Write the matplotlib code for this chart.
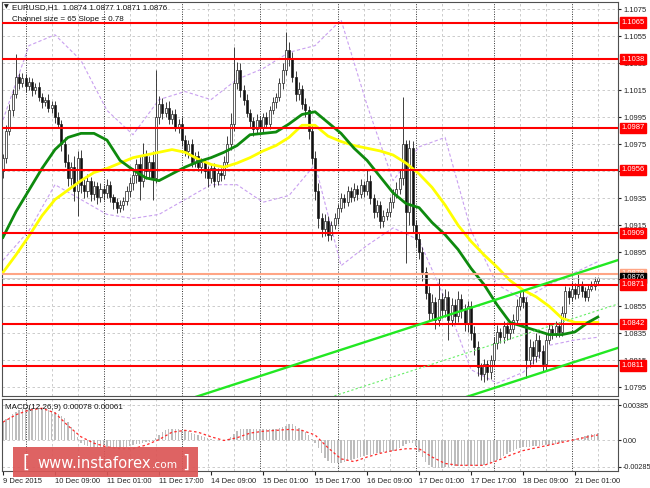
import matplotlib
matplotlib.use("Agg")
import matplotlib.pyplot as plt
import matplotlib.transforms as mtrans
from matplotlib.patches import Rectangle
import numpy as np

# ---- price data (EURUSD H1, bar 0 = 9 Dec 17:00) ----
first_open = 1.0955
closes = [
    1.0965, 1.0985, 1.1000, 1.1012, 1.1025, 1.1020, 1.1024, 1.1018, 1.1021, 1.1015,
    1.1017, 1.1010, 1.1006, 1.1008, 1.1002, 1.1004, 1.0995, 1.0990, 1.0975, 1.0962,
    1.0950, 1.0958, 1.0940, 1.0965, 1.0945, 1.0940, 1.0948, 1.0938, 1.0944, 1.0936,
    1.0942, 1.0939, 1.0945, 1.0936, 1.0932, 1.0928, 1.0930, 1.0933, 1.0940, 1.0946,
    1.0952, 1.0960, 1.0948, 1.0966, 1.0955, 1.0962, 1.0950, 1.0995, 1.1005, 1.0998,
    1.1002, 1.0994, 1.0997, 1.0988, 1.0990, 1.0978, 1.0970, 1.0975, 1.0962, 1.0966,
    1.0958, 1.0962, 1.0955, 1.0950, 1.0957, 1.0948, 1.0954, 1.0952, 1.0962, 1.0975,
    1.0990, 1.1020, 1.1030, 1.1015, 1.1008, 1.0998, 1.0992, 1.0986, 1.0993, 1.0988,
    1.0995, 1.0990, 1.1000, 1.1006, 1.1010, 1.1020, 1.1030, 1.1045, 1.1038, 1.1025,
    1.1012, 1.1016, 1.1005, 1.1000, 1.0985, 1.0965, 1.0940, 1.0920, 1.0912, 1.0918,
    1.0908, 1.0915, 1.0920, 1.0928, 1.0935, 1.0932, 1.0940, 1.0936, 1.0942, 1.0938,
    1.0945, 1.0940, 1.0948, 1.0935, 1.0925, 1.0930, 1.0918, 1.0922, 1.0925, 1.0932,
    1.0938, 1.0942, 1.0950, 1.0975, 1.0925, 1.0972, 1.0915, 1.0905, 1.0895, 1.0880,
    1.0865, 1.0850, 1.0858, 1.0845, 1.0860, 1.0852, 1.0862, 1.0845, 1.0856, 1.0848,
    1.0860, 1.0852, 1.0842, 1.0855, 1.0835, 1.0825, 1.0810, 1.0805, 1.0812, 1.0806,
    1.0815, 1.0828, 1.0836, 1.0832, 1.0840, 1.0835, 1.0838, 1.0845, 1.0855, 1.0862,
    1.0858, 1.0815, 1.0825, 1.0818, 1.0830, 1.0822, 1.0812, 1.0830, 1.0838, 1.0835,
    1.0840, 1.0836, 1.0850, 1.0866, 1.0862, 1.0868, 1.0864, 1.0870, 1.0866, 1.0862,
    1.0868, 1.0870, 1.0874, 1.0876,
]
# wick lengths in pips above / below the body
up_wick = [
    3, 4, 5, 4, 17, 3, 4, 3, 4, 3,
    3, 4, 3, 2, 4, 3, 3, 4, 3, 5,
    6, 4, 8, 5, 6, 4, 5, 3, 4, 3,
    4, 3, 4, 3, 2, 3, 4, 3, 4, 5,
    5, 4, 6, 10, 5, 4, 8, 35, 6, 4,
    4, 5, 3, 4, 4, 5, 4, 3, 4, 3,
    4, 3, 3, 4, 3, 4, 3, 3, 4, 6,
    8, 27, 6, 5, 4, 4, 3, 3, 4, 3,
    3, 4, 3, 4, 3, 4, 5, 13, 6, 5,
    4, 5, 3, 4, 3, 4, 5, 6, 4, 5,
    4, 3, 4, 3, 4, 3, 4, 3, 4, 3,
    4, 3, 8, 4, 3, 4, 3, 4, 3, 4,
    4, 5, 6, 35, 3, 6, 5, 4, 5, 4,
    4, 5, 6, 4, 16, 5, 6, 4, 5, 4,
    6, 4, 5, 4, 4, 5, 4, 3, 4, 3,
    4, 4, 5, 3, 4, 3, 4, 4, 5, 4,
    5, 4, 6, 4, 5, 4, 4, 5, 4, 3,
    4, 3, 5, 4, 3, 5, 4, 10, 4, 3,
    3, 4, 3, 1,
]
down_wick = [
    5, 4, 3, 4, 3, 4, 3, 4, 3, 4,
    3, 3, 4, 3, 3, 4, 4, 3, 5, 4,
    6, 5, 7, 18, 6, 5, 4, 5, 4, 5,
    4, 5, 4, 4, 5, 4, 3, 4, 3, 4,
    5, 6, 14, 5, 6, 5, 16, 4, 5, 4,
    3, 4, 4, 3, 5, 4, 4, 5, 4, 4,
    3, 4, 5, 7, 4, 5, 3, 4, 3, 4,
    4, 5, 4, 5, 4, 3, 4, 5, 3, 4,
    4, 3, 4, 3, 4, 3, 4, 4, 5, 4,
    5, 4, 4, 5, 6, 5, 6, 7, 6, 5,
    5, 4, 3, 4, 3, 4, 3, 4, 3, 4,
    3, 4, 3, 4, 5, 4, 5, 4, 3, 4,
    4, 3, 4, 5, 38, 10, 5, 6, 5, 6,
    5, 6, 5, 7, 5, 6, 5, 15, 5, 6,
    5, 6, 5, 6, 5, 6, 7, 5, 6, 6,
    5, 4, 5, 4, 4, 5, 4, 3, 4, 3,
    4, 13, 5, 6, 4, 5, 6, 4, 3, 4,
    3, 4, 3, 4, 5, 3, 4, 3, 4, 3,
    3, 2, 3, 3,
]

# moving averages read every 4 bars (last point = last bar)
ma_bars = list(range(0, 184, 4)) + [183]
ma_green = [
    1.0906, 1.0925, 1.0941, 1.0957, 1.0971, 1.0980, 1.0983, 1.0983, 1.0978, 1.0963,
    1.0956, 1.0950, 1.0948, 1.0953, 1.0958, 1.0962, 1.0965, 1.0969, 1.0974, 1.0982,
    1.0983, 1.0984, 1.0990, 1.0997, 1.0999, 1.0991, 1.0983, 1.0972, 1.0963, 1.0951,
    1.0939, 1.0931, 1.0928, 1.0917, 1.0908, 1.0897, 1.0883, 1.0871, 1.0856, 1.0843,
    1.0840, 1.0837, 1.0834, 1.0834, 1.0836, 1.0843, 1.0847,
]
ma_yellow = [
    1.0880, 1.0893, 1.0907, 1.0922, 1.0934, 1.0941, 1.0948, 1.0954, 1.0957, 1.0961,
    1.0965, 1.0967, 1.0969, 1.0971, 1.0969, 1.0964, 1.0960, 1.0958, 1.0961, 1.0965,
    1.0970, 1.0974, 1.0980, 1.0989, 1.0989, 1.0981, 1.0977, 1.0974, 1.0972, 1.0970,
    1.0967, 1.0961, 1.0953, 1.0943, 1.0930, 1.0915, 1.0903, 1.0893, 1.0884, 1.0874,
    1.0867, 1.0862, 1.0855, 1.0846, 1.0843, 1.0843, 1.0843,
]
# bands read every 8 bars
band_bars = list(range(0, 184, 8)) + [183]
band_upper = [
    1.0993, 1.1048, 1.1056, 1.1037, 1.1000, 1.0982, 1.1008, 1.1014, 1.1008, 1.1023,
    1.1031, 1.1043, 1.1048, 1.1067, 1.1004, 1.0948, 1.0973, 1.0980, 1.0911, 1.0871,
    1.0860, 1.0871, 1.0880, 1.0888,
]
band_lower = [
    1.0889, 1.0911, 1.0945, 1.0934, 1.0923, 1.0920, 1.0923, 1.0934, 1.0945, 1.0945,
    1.0932, 1.0937, 1.0960, 1.0885, 1.0900, 1.0913, 1.0904, 1.0860, 1.0808, 1.0798,
    1.0806, 1.0826, 1.0830, 1.0832,
]

# MACD (units of 1e-4)
macd_hist = [
    20, 23, 26, 29, 31, 33, 34, 35, 35, 35, 34, 34, 34, 33, 33, 32, 31, 29, 27, 24, 20,
    15, 10, 4,
    -3, -5, -6, -7, -7, -8, -8, -7, -7, -8, -8, -8, -8, -7, -7, -6, -5, -4, -4, -3, -2, -2, -1,
    3, 6, 9, 11, 12, 13, 12, 12, 11, 11, 10,
    8, 7, 6, 5, 4, 3, 2, 1, 1, 0, 1, 2, 4,
    7, 10, 12, 13, 13, 12, 12, 12, 12,
    12, 12, 12, 13, 13, 14, 15, 16, 18, 18, 16, 14,
    11, 9, 6, 2, -3, -8,
    -14, -19, -22, -25, -25, -25, -24, -23, -22, -21,
    -20, -19, -18, -17, -16, -16, -15, -14, -14, -13, -12, -12, -11, -10, -8, -6,
    -4, -3, -3, -6,
    -12, -18, -23, -27, -29, -30, -30, -30, -29, -29, -28,
    -28, -28, -28, -28, -27, -27, -28, -28, -28, -27, -26, -25, -23,
    -21, -19, -17, -15, -13, -11, -9, -8, -7,
    -7, -7, -6, -6, -6, -5, -5, -5, -4, -4, -3,
    -2, -1, 0, 1,
    2, 3, 4, 5, 6, 7, 7, 8,
]
macd_signal = [
    20, 28, 33, 35, 30, 16, 4, -3, -7, -9, -9, -5, 1, 9, 11, 9, 4, 0, 3, 8,
    10, 11, 12, 11, 6, -8, -20, -23, -18, -14, -11, -9, -9, -18, -25, -27, -27, -27,
    -22, -16, -11, -8, -5, -2, 1, 4, 6,
]

levels = [1.1065, 1.1038, 1.0987, 1.0956, 1.0909, 1.0871, 1.0842, 1.0811]
price_ticks = [1.0795, 1.0815, 1.0835, 1.0855, 1.0875, 1.0895, 1.0915, 1.0935,
               1.0955, 1.0975, 1.0995, 1.1015, 1.1035, 1.1055, 1.1075]
time_labels = ["9 Dec 2015", "10 Dec 09:00", "11 Dec 01:00", "11 Dec 17:00",
               "14 Dec 09:00", "15 Dec 01:00", "15 Dec 17:00", "16 Dec 09:00",
               "17 Dec 01:00", "17 Dec 17:00", "18 Dec 09:00", "21 Dec 01:00"]
time_label_bars = [0, 16, 32, 48, 64, 80, 96, 112, 128, 144, 160, 176]
day_sep_bars = [7, 31, 55, 79, 103, 127, 151, 175]
channel_size = 0.0065
channel_slope = 0.000078
channel_anchor = (189, 1.0889)   # upper line at right edge
resistance_price = 1.0879
bid = 1.0876

# ---- figure ----
W, H = 650, 488
fig = plt.figure(figsize=(W / 100, H / 100), dpi=100)
fig.patch.set_facecolor("white")


def px_axes(x0, y0, x1, y1):
    return fig.add_axes([x0 / W, 1 - y1 / H, (x1 - x0) / W, (y1 - y0) / H])


ax = px_axes(2, 2, 618, 396)
mx = px_axes(2, 399, 618, 471)
XMIN, XMAX = -0.3, 189.2
FONT = "Liberation Sans"

for a in (ax, mx):
    a.set_xlim(XMIN, XMAX)
    for s in a.spines.values():
        s.set_color("#505050")
        s.set_linewidth(0.8)
    a.yaxis.tick_right()
    a.tick_params(axis="y", labelsize=5.5, length=2, pad=2, colors="#222222")
    for d in day_sep_bars:
        a.axvline(d, color="#303030", lw=0.7, ls=(0, (1, 1.5)), zorder=0.6)
    for g in range(-1, 190, 8):
        if g not in day_sep_bars:
            a.axvline(g, color="#c4c4c4", lw=0.6, ls=(0, (3, 3)), zorder=0.5)

# price panel
ax.set_ylim(1.07885, 1.10803)
ax.set_yticks(price_ticks)
ax.set_yticklabels([f"{p:.4f}" for p in price_ticks], fontfamily=FONT)
ax.set_xticks([])
for p in price_ticks:
    ax.axhline(p, color="#c4c4c4", lw=0.6, ls=(0, (3, 3)), zorder=0.5)

bars = np.arange(len(closes))
c = np.array(closes)
o = np.array([first_open] + closes[:-1])
hi = np.maximum(o, c) + np.array(up_wick) * 1e-4
lo = np.minimum(o, c) - np.array(down_wick) * 1e-4

ax.plot(band_bars, band_upper, color="#c9a0f0", lw=0.8, ls=(0, (3, 2)), zorder=1)
ax.plot(band_bars, band_lower, color="#c9a0f0", lw=0.8, ls=(0, (3, 2)), zorder=1)

ax.vlines(bars, lo, hi, color="#202020", lw=0.6, zorder=2)
bull = c >= o
body = np.maximum(np.abs(c - o), 0.00004)
ax.bar(bars, body, bottom=np.minimum(o, c), width=0.62,
       color=np.where(bull, "white", "#101010"), edgecolor="#202020",
       linewidth=0.5, zorder=2.1)

ax.plot(ma_bars, ma_yellow, color="#ffff00", lw=2.0, zorder=3)
ax.plot(ma_bars, ma_green, color="#0e8a0e", lw=2.0, zorder=3.1)

for lv in levels:
    ax.axhline(lv, color="#ff0000", lw=1.5, zorder=4)
ax.axhline(resistance_price, color="#ffa585", lw=1.5, zorder=3.9)
ax.axhline(bid, color="#c8c8c8", lw=0.6, zorder=3.8)

xs = np.array([XMIN, XMAX])
upper = channel_anchor[1] + channel_slope * (xs - channel_anchor[0])
ax.plot(xs, upper, color="#22e822", lw=1.7, zorder=4.2)
ax.plot(xs, upper - channel_size, color="#22e822", lw=1.7, zorder=4.2)
ax.plot(xs, upper - channel_size / 2, color="#66ee66", lw=0.8, ls=(0, (2, 2)), zorder=4.2)

# right-hand price boxes (orange under black under red)
lab_tr = mtrans.blended_transform_factory(ax.transAxes, ax.transData)
lab_x = (621.5 - 2) / 616


def price_box(val, fc, z, tc="white"):
    ax.text(lab_x, val, f"{val:.4f}", transform=lab_tr, ha="left", va="center",
            fontsize=5.5, fontfamily=FONT, color=tc, clip_on=False, zorder=z,
            bbox=dict(boxstyle="square,pad=0.22", fc=fc, ec=fc))


price_box(resistance_price, "#ffa585", 10)
price_box(bid, "#000000", 11)
for lv in levels:
    price_box(lv, "#ff0000", 12)

ax.text(0.004, 0.993, "\u25bc", transform=ax.transAxes, fontsize=4.5,
        color="#222222", va="top", ha="left")
ax.text(0.017, 0.995, "EURUSD,H1  1.0874 1.0877 1.0871 1.0876", transform=ax.transAxes,
        fontsize=5.8, fontfamily=FONT, color="#111111", va="top", ha="left")
ax.text(0.017, 0.965, "Channel size = 65 Slope = 0.78", transform=ax.transAxes,
        fontsize=5.8, fontfamily=FONT, color="#111111", va="top", ha="left")

# MACD panel
mx.set_ylim(-0.00332, 0.00451)
mticks = [0.00385, 0.0, -0.00285]
mx.set_yticks(mticks)
mx.set_yticklabels(["0.00385", "0.00", "-0.00285"], fontfamily=FONT)
mx.tick_params(axis="y", labelsize=5.2, pad=1.5)
for t in mticks:
    mx.axhline(t, color="#c4c4c4", lw=0.6, ls=(0, (3, 3)), zorder=0.5)
mx.bar(bars, np.array(macd_hist) * 1e-4, width=0.45, color="#bdbdbd", zorder=1)
mx.plot(ma_bars, np.array(macd_signal) * 1e-4, color="#ff2a2a", lw=0.9,
        ls=(0, (2, 2)), zorder=2)
mx.text(0.005, 0.93, "MACD(12,26,9) 0.00078 0.00061", transform=mx.transAxes,
        fontsize=5.8, fontfamily=FONT, color="#111111", va="top", ha="left")
mx.set_xticks(time_label_bars)
mx.set_xticklabels(time_labels, fontfamily=FONT, fontsize=5.5, ha="left")
mx.tick_params(axis="x", length=3, pad=2, colors="#222222")

# watermark
fig.patches.append(Rectangle((13 / W, 1 - 477 / H), 185 / W, 30 / H,
                             transform=fig.transFigure, fc="#dc5656", ec="none",
                             alpha=0.92, zorder=20))
wy = 1 - 463 / H
fig.text(22 / W, wy, "[", fontsize=13, color="white", va="center", ha="left", zorder=21)
fig.text(37 / W, wy, "www.instaforex", fontsize=10.6, color="white",
         va="center", ha="left", zorder=21)
fig.text(152 / W, wy - 0.004, ".com", fontsize=7.6, color="white",
         va="center", ha="left", zorder=21)
fig.text(182 / W, wy, "]", fontsize=13, color="white", va="center", ha="left", zorder=21)

fig.savefig("out.png", dpi=100)
